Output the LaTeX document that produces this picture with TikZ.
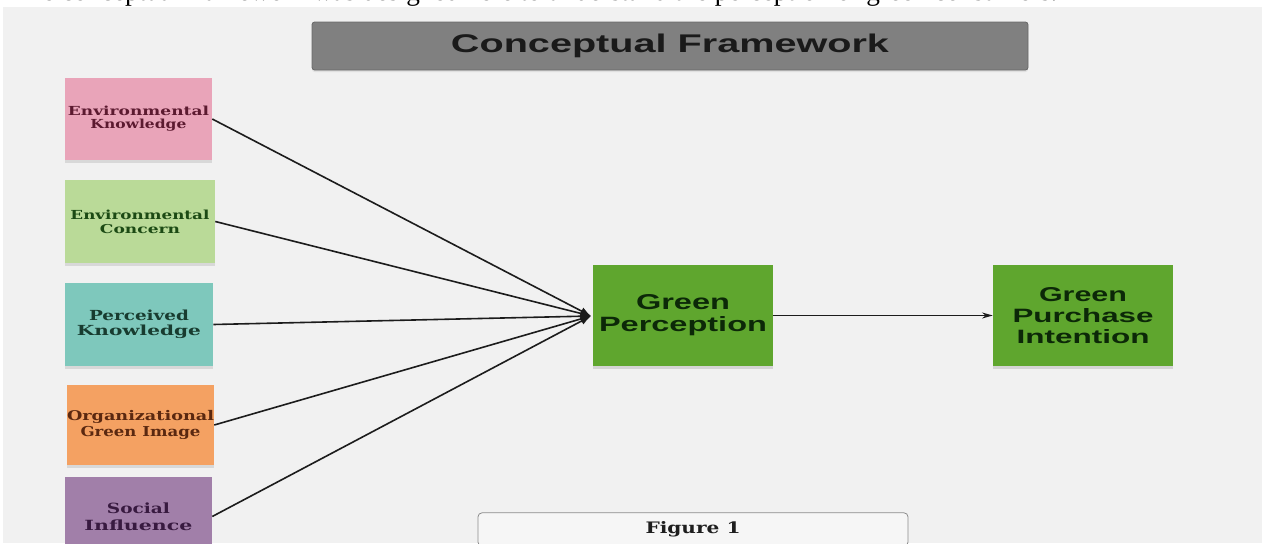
\documentclass[tikz,border=0pt]{standalone}
\usepackage{fontspec}
\usepackage{graphicx}
\setmainfont{Liberation Serif}
\newfontfamily\sansb{Liberation Sans}[BoldFont={Liberation Sans Bold}]
\newfontfamily\serifb{DejaVu Serif}
\usetikzlibrary{arrows.meta,shadows}
\definecolor{bgc}{RGB}{241,241,241}
\definecolor{pinkf}{RGB}{233,164,185}
\definecolor{pinkt}{RGB}{92,26,48}
\definecolor{lgreenf}{RGB}{186,218,152}
\definecolor{lgreent}{RGB}{28,74,20}
\definecolor{tealf}{RGB}{126,200,188}
\definecolor{tealt}{RGB}{24,60,48}
\definecolor{orangef}{RGB}{244,161,98}
\definecolor{oranget}{RGB}{90,40,16}
\definecolor{purplef}{RGB}{161,127,169}
\definecolor{purplet}{RGB}{56,26,64}
\definecolor{greenf}{RGB}{95,166,46}
\definecolor{greent}{RGB}{12,40,8}
\definecolor{titlef}{RGB}{128,128,128}
\definecolor{titled}{RGB}{105,105,105}
\definecolor{linec}{RGB}{28,28,28}
\newcommand{\rb}[3]{\resizebox{#1pt}{#2pt}{#3}}
\tikzset{
  x=0.75pt, y=-0.75pt,
  leftbox/.style={rectangle, inner sep=0pt, align=center,
    drop shadow={opacity=0.22, shadow xshift=0pt, shadow yshift=-2pt}},
  greenbox/.style={rectangle, fill=greenf, inner sep=0pt, align=center,
    minimum width=135pt, minimum height=75.75pt, text=greent,
    drop shadow={opacity=0.25, shadow xshift=0pt, shadow yshift=-2.5pt}},
  conn/.style={draw=linec, line width=1.2pt, -{Latex[length=8pt,width=6pt]}},
  conn2/.style={draw=linec, line width=1.2pt, -{Stealth[length=8pt,width=4.5pt]}},
}
\begin{document}
\begin{tikzpicture}
\useasboundingbox (0,0) rectangle (1262,543);
\begin{scope}
\clip (0,0) rectangle (1262,543);
% page background
\fill[white] (0,0) rectangle (1262,543);
\fill[bgc] (3,6.5) rectangle (1262,543);
% cut-off line of running text at the top
\node[anchor=base west, inner sep=0pt] (toptext) at (12,0.8)
  {\resizebox{783.75pt}{!}{The conceptual framework was designed here to understand the perception of green consumers.}};

% title
\node[rectangle, rounded corners=2pt, fill=titlef, draw=titled, line width=0.6pt,
  minimum width=537pt, minimum height=36pt, inner sep=0pt,
  drop shadow={opacity=0.15, shadow xshift=0pt, shadow yshift=-1.5pt}] (title) at (670,46)
  {\color[RGB]{26,26,26}\sansb\bfseries\rb{328.5}{13.9}{Conceptual Framework}};

% left boxes
\node[leftbox, fill=pinkf, text=pinkt, minimum width=110.25pt, minimum height=61.5pt,
  font=\serifb\bfseries\fontsize{7}{9.75}\selectfont] (ek) at (138.5,119)
  {\rb{105.75}{7.1}{Environmental}\\\rb{72}{7.1}{Knowledge}};
\node[leftbox, fill=lgreenf, text=lgreent, minimum width=112.5pt, minimum height=62.25pt,
  font=\serifb\bfseries\fontsize{7}{10.5}\selectfont] (ec) at (140,221.5)
  {\rb{104.25}{7.1}{Environmental}\\\rb{60}{6.8}{Concern}};
\node[leftbox, fill=tealf, text=tealt, minimum width=111pt, minimum height=62.25pt,
  font=\serifb\bfseries\fontsize{7}{11.25}\selectfont] (pk) at (139,324.5)
  {\rb{75}{7.9}{Perceived}\\\rb{93}{7.9}{Knowledge}};
\node[leftbox, fill=orangef, text=oranget, minimum width=108.75pt, minimum height=60pt,
  font=\serifb\bfseries\fontsize{7}{12}\selectfont] (og) at (140.5,425)
  {\rb{110.25}{7.6}{Organizational}\\\rb{90}{7.6}{Green Image}};
\node[leftbox, fill=purplef, text=purplet, minimum width=110.25pt, minimum height=59.25pt,
  font=\serifb\bfseries\fontsize{7}{12.75}\selectfont] (si) at (138.5,516.5)
  {\rb{47.25}{8}{Social}\\\rb{81}{8}{Influence}};

% green boxes
\node[greenbox, font=\sansb\bfseries\fontsize{10}{16.5}\selectfont] (gp) at (683,315.5)
  {\rb{70.5}{11.25}{Green}\\\rb{126}{11.25}{Perception}};
\node[greenbox, font=\sansb\bfseries\fontsize{10}{15.75}\selectfont] (gpi) at (1083,315.5)
  {\rb{66}{10.5}{Green}\\\rb{105.75}{10.5}{Purchase}\\\rb{99.75}{10.5}{Intention}};

% connectors
\coordinate (hub) at (591,316);
\draw[conn] (ek.east) -- (hub);
\draw[conn] (ec.east) -- (hub);
\draw[conn] (pk.east) -- (hub);
\draw[conn] (og.east) -- (hub);
\draw[conn] (si.east) -- (hub);
\draw[conn2] (gp.east) -- (gpi.west);

% figure caption box
\node[rectangle, rounded corners=3pt, fill=white!35!bgc, draw=black!45, line width=0.6pt,
  minimum width=322.5pt, minimum height=25pt, inner sep=0pt] (fig) at (693,529.5)
  {\color[RGB]{30,30,30}\serifb\bfseries\rb{71.25}{9}{Figure 1}};
\end{scope}
\end{tikzpicture}
\end{document}
